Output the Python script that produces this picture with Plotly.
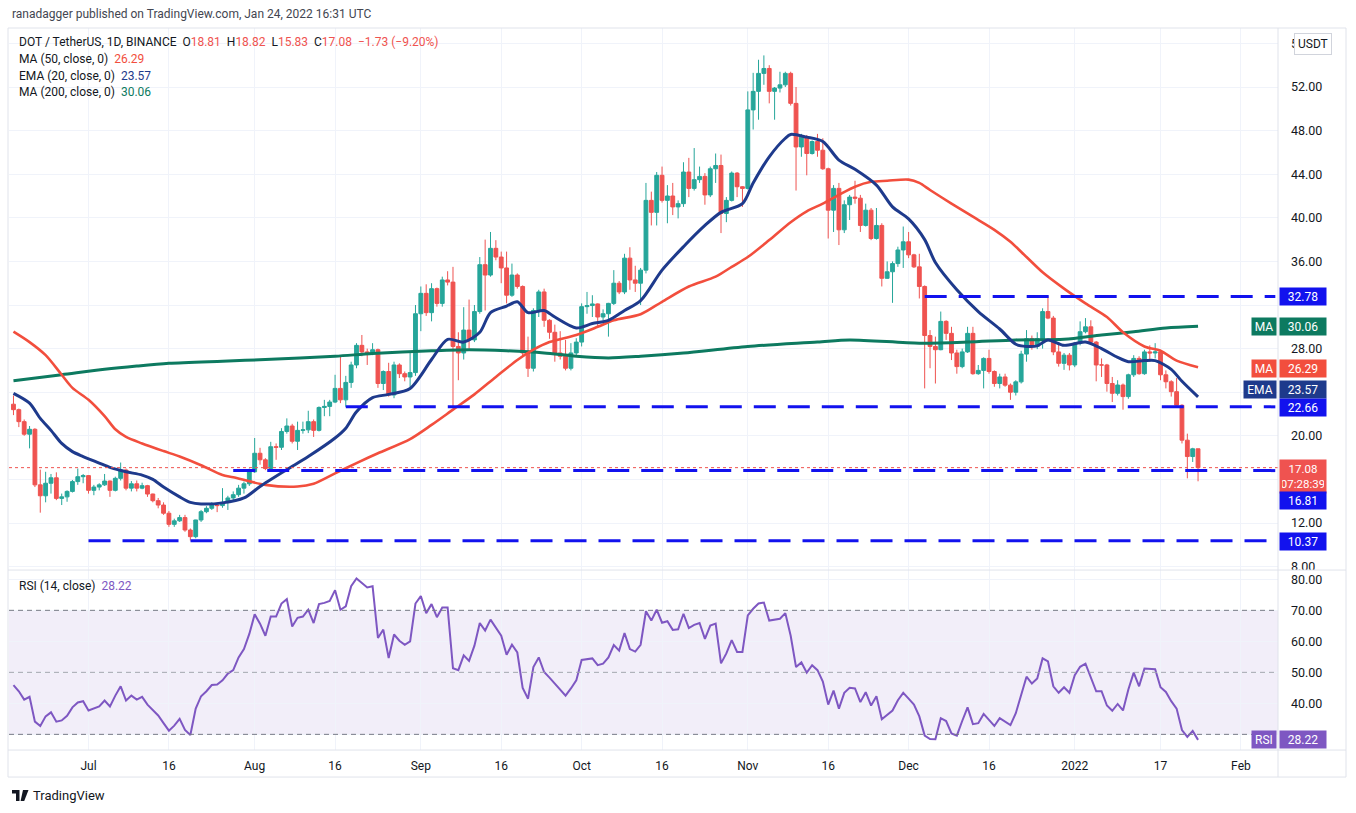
"""DOT/USDT daily candles with MA50 / EMA20 / MA200, S/R levels and RSI(14) pane."""
import pandas as pd
import plotly.graph_objects as go

# ---------------------------------------------------------------------------
# Data
# ---------------------------------------------------------------------------

FIRST_DAY = "2021-06-17"
first_open = 22.9

closes = [
    22.4, 21.3, 20.15, 20.6, 15.5, 14.5, 15.65, 16.15, 14.26, 14.4, 14.9, 15.8, 16.25, 16.35,  # Jun
    15.0, 15.3, 15.5, 15.85, 15.0, 16.1, 16.86, 15.2, 15.6, 15.2, 15.43, 14.66, 14.05, 13.65,
    12.9, 11.88, 12.2, 12.5, 11.36, 10.75, 12.28, 13.04, 13.35, 13.65, 13.6, 13.9, 14.3, 14.6,
    15.2, 15.6, 16.7,  # Jul
    18.4, 17.8, 17.0, 19.0, 18.95, 20.4, 20.9, 19.5, 20.5, 20.55, 21.3, 20.5, 22.6, 22.7, 23.1,
    24.35, 23.3, 24.9, 26.5, 28.3, 27.7, 27.6, 27.9, 24.8, 25.9, 23.75, 26.5, 25.7, 25.4, 25.8,
    31.2,  # Aug
    33.07, 31.3, 33.5, 32.15, 34.3, 34.1, 28.2, 27.6, 29.7, 28.8, 31.4, 35.7, 34.75, 37.2, 36.4,
    35.4, 32.9, 34.75, 33.7, 27.6, 26.2, 31.5, 33.2, 30.6, 29.5, 27.6, 27.3, 26.2, 27.6, 28.6,  # Sep
    31.85, 31.95, 32.1, 30.9, 31.2, 32.15, 34.0, 33.2, 36.3, 34.3, 34.0, 35.2, 41.6, 40.5, 43.9,
    41.6, 42.0, 41.0, 41.3, 44.2, 42.7, 43.5, 43.8, 42.1, 44.5, 44.8, 40.4, 41.6, 44.1, 42.85,
    42.7,  # Oct
    49.9, 51.6, 53.25, 53.7, 51.6, 51.9, 52.2, 53.25, 50.5, 46.5, 47.4, 45.9, 47.0, 46.2, 44.5,
    40.7, 42.7, 38.9, 41.2, 41.9, 41.8, 39.3, 40.7, 38.1, 39.3, 34.45, 35.05, 35.8, 37.05, 37.8,  # Nov
    36.6, 35.5, 33.7, 29.2, 28.2, 27.9, 30.5, 29.4, 27.6, 26.35, 27.7, 29.4, 25.7, 26.0, 27.1,
    25.9, 24.8, 25.4, 24.65, 24.0, 24.95, 27.5, 28.9, 28.2, 28.9, 31.4, 30.8, 27.7, 26.65, 27.4,
    26.5,  # Dec
    28.5, 29.55, 30.0, 28.6, 26.5, 26.5, 24.8, 23.9, 24.66, 23.6, 25.6, 27.1, 25.7, 27.7, 27.6,
    27.7, 25.6, 24.96, 24.05, 22.8, 19.6, 18.1, 18.81, 17.08,  # Jan
]
highs = [
    23.7, 22.5, 21.5, 20.9, 20.7, 16.9, 16.7, 16.5, 16.65, 14.7, 15.0, 15.95, 17.0, 16.5,
    16.4, 15.5, 15.65, 16.5, 15.9, 16.25, 17.55, 17.0, 15.85, 15.9, 15.7, 15.5, 14.7, 14.3,
    13.9, 13.1, 12.4, 12.75, 12.75, 11.5, 12.3, 13.2, 13.55, 13.9, 13.75, 15.2, 14.5, 14.9,
    15.5, 15.8, 17.0,
    19.8, 18.9, 17.95, 19.45, 19.3, 20.7, 21.6, 21.1, 21.3, 21.3, 22.3, 21.5, 22.7, 23.3, 23.3,
    25.6, 27.25, 25.5, 26.8, 28.5, 29.25, 28.0, 28.5, 28.0, 26.0, 26.7, 26.8, 26.65, 25.9, 27.6,
    32.0,
    33.7, 33.9, 34.0, 33.6, 34.6, 35.1, 35.5, 29.5, 31.8, 32.5, 32.0, 36.4, 38.0, 38.7, 37.95,
    36.9, 36.9, 35.8, 34.9, 33.8, 29.1, 31.7, 33.4, 33.5, 30.7, 30.2, 29.6, 28.8, 28.5, 28.95,
    32.15, 33.2, 32.9, 32.15, 31.6, 32.2, 35.2, 34.2, 36.7, 37.3, 35.6, 35.4, 43.2, 42.4, 44.2,
    44.7, 43.0, 43.2, 41.6, 45.1, 45.5, 46.4, 44.7, 44.1, 44.7, 45.9, 45.8, 41.9, 44.25, 44.2,
    42.9,
    51.6, 53.3, 54.5, 54.9, 54.0, 52.0, 53.4, 53.4, 53.4, 52.0, 47.7, 47.6, 47.1, 47.7, 47.3,
    44.6, 43.0, 43.2, 41.6, 42.1, 43.4, 42.1, 41.3, 40.9, 40.9, 39.5, 36.0, 36.0, 37.35, 39.2,
    38.7, 36.7, 36.7, 33.8, 29.7, 29.1, 31.4, 30.6, 30.0, 27.9, 28.0, 30.0, 30.0, 26.5, 27.2,
    27.9, 26.0, 25.7, 25.7, 24.8, 25.1, 27.8, 29.7, 29.2, 29.5, 31.7, 32.8, 31.0, 28.6, 27.6,
    27.6,
    28.6, 30.5, 30.8, 30.6, 28.7, 27.1, 26.6, 25.4, 25.1, 24.8, 25.7, 27.4, 27.3, 27.9, 28.3,
    28.5, 27.9, 26.0, 25.1, 25.3, 22.9, 20.2, 18.9, 18.82,
]
lows = [
    21.9, 20.8, 20.0, 18.85, 15.3, 12.95, 13.9, 14.7, 14.1, 13.65, 13.95, 14.8, 15.5, 15.65,
    14.7, 14.55, 15.0, 15.4, 14.4, 14.9, 15.9, 15.0, 14.9, 14.9, 15.1, 14.4, 13.9, 13.35,
    12.75, 11.65, 11.65, 12.1, 11.2, 10.4, 10.6, 12.1, 12.9, 13.2, 13.0, 13.4, 13.2, 14.1,
    14.4, 14.7, 15.4,
    16.6, 17.35, 16.85, 16.9, 17.8, 18.7, 20.2, 19.3, 18.7, 20.2, 20.25, 19.9, 20.4, 21.8, 21.8,
    23.0, 23.0, 22.66, 24.4, 26.2, 27.3, 26.5, 27.4, 24.4, 24.2, 23.6, 23.45, 25.3, 25.0, 24.4,
    25.5,
    29.6, 31.0, 30.5, 31.85, 31.85, 33.8, 22.7, 25.1, 27.0, 28.0, 28.6, 31.2, 31.5, 34.6, 36.1,
    34.0, 32.15, 32.75, 33.5, 27.3, 25.4, 25.9, 30.9, 30.0, 28.9, 26.8, 27.0, 26.0, 26.0, 27.3,
    28.2, 31.2, 30.9, 30.0, 30.6, 29.1, 32.0, 33.0, 33.0, 33.4, 33.2, 32.0, 34.9, 39.3, 39.3,
    41.4, 39.5, 40.25, 39.95, 41.0, 41.9, 42.5, 43.2, 41.2, 41.9, 43.2, 38.6, 39.6, 41.5, 41.9,
    41.0,
    42.6, 48.1, 49.0, 52.2, 50.5, 49.0, 51.5, 52.0, 50.3, 42.5, 45.6, 43.9, 45.8, 45.6, 44.4,
    38.1, 38.7, 37.5, 38.6, 39.8, 41.3, 38.7, 39.2, 37.95, 38.0, 33.7, 34.4, 32.2, 35.5, 35.4,
    36.3, 35.4, 32.6, 24.35, 26.2, 24.8, 27.85, 28.8, 26.95, 25.7, 26.2, 27.6, 25.6, 25.6, 24.35,
    25.7, 24.5, 24.35, 24.5, 23.3, 23.7, 24.8, 26.8, 27.9, 27.95, 28.0, 30.7, 27.4, 26.35, 26.05,
    26.0,
    26.3, 28.3, 29.4, 28.5, 25.0, 25.4, 24.05, 23.1, 23.7, 22.4, 23.4, 25.4, 25.6, 25.6, 26.8,
    27.1, 25.1, 24.35, 23.6, 22.7, 19.3, 16.1, 17.6, 15.83,
]

rsi = [
    45.9, 43.9, 41.2, 42.1, 34.1, 32.7, 35.8, 37.1, 34.1, 34.5, 36.0, 38.7, 40.3, 40.7,
    37.7, 38.3, 39.0, 40.9, 39.0, 42.5, 45.5, 40.9, 42.5, 41.2, 42.1, 39.6, 37.7, 36.1, 33.6,
    31.2, 32.8, 35.0, 31.4, 29.8, 38.3, 42.3, 43.9, 45.9, 46.1, 47.4, 49.6, 50.7, 54.8, 57.5,
    62.4,
    68.7, 65.7, 61.8, 68.0, 68.0, 72.2, 73.6, 64.8, 67.6, 68.0, 70.2, 65.9, 72.0, 72.4, 73.0,
    76.5, 70.2, 71.3, 77.8, 80.3, 78.7, 77.4, 77.8, 61.1, 63.8, 54.6, 62.2, 60.2, 58.9, 60.0,
    72.2,
    74.6, 69.1, 72.0, 67.8, 70.9, 70.9, 51.3, 50.7, 55.5, 53.7, 58.6, 65.9, 63.5, 67.0, 64.3,
    61.8, 55.7, 58.9, 56.4, 45.0, 41.5, 51.7, 54.8, 50.1, 48.3, 46.3, 44.5, 42.5, 44.8, 47.4,
    54.0, 54.2, 54.5, 52.3, 52.8, 54.8, 58.8, 57.0, 62.7, 57.5, 56.7, 58.9, 69.7, 66.7, 70.2,
    66.0, 66.5, 63.7, 63.9, 68.9, 64.3, 65.3, 65.9, 60.8, 65.1, 65.7, 52.9, 56.1, 60.4, 56.6,
    56.6,
    68.4, 70.5, 72.2, 72.5, 66.7, 67.1, 67.3, 69.1, 61.8, 51.7, 53.2, 49.9, 52.3, 50.7, 47.0,
    39.6, 44.1, 38.3, 43.4, 45.0, 44.8, 40.4, 43.6, 39.3, 42.3, 34.9, 36.3, 37.7, 41.0, 43.4,
    41.5, 39.6, 35.8, 29.6, 28.5, 28.4, 35.2, 34.3, 30.3, 29.6, 34.3, 38.7, 33.3, 33.6, 36.6,
    34.7, 32.7, 35.2, 34.1, 33.0, 36.8, 42.8, 48.6, 46.4, 48.0, 54.5, 53.5, 45.5, 43.4, 45.2,
    43.4,
    49.1, 51.8, 52.8, 48.3, 43.9, 43.9, 39.3, 37.6, 39.8, 37.7, 44.5, 49.9, 45.5, 51.2, 51.0,
    51.0, 45.2, 43.7, 40.7, 38.3, 31.4, 29.2, 31.1, 28.22,
]

ema20_dates = [
    "2021-06-17", "2021-06-20", "2021-06-22", "2021-06-24", "2021-06-26", "2021-06-28",
    "2021-06-30", "2021-07-03", "2021-07-05", "2021-07-08", "2021-07-11", "2021-07-13",
    "2021-07-15", "2021-07-18", "2021-07-20", "2021-07-22", "2021-07-26", "2021-07-30",
    "2021-08-02", "2021-08-07", "2021-08-11", "2021-08-16", "2021-08-18", "2021-08-20",
    "2021-08-23", "2021-08-26", "2021-08-30", "2021-09-03", "2021-09-06", "2021-09-09",
    "2021-09-12", "2021-09-14", "2021-09-17", "2021-09-19", "2021-09-21", "2021-09-24",
    "2021-09-26", "2021-09-30", "2021-10-03", "2021-10-06", "2021-10-09", "2021-10-12",
    "2021-10-16", "2021-10-20", "2021-10-24", "2021-10-27", "2021-10-31", "2021-11-02",
    "2021-11-05", "2021-11-08", "2021-11-09", "2021-11-12", "2021-11-15", "2021-11-18",
    "2021-11-21", "2021-11-25", "2021-11-28", "2021-12-01", "2021-12-04", "2021-12-06",
    "2021-12-10", "2021-12-14", "2021-12-18", "2021-12-21", "2021-12-23", "2021-12-25",
    "2021-12-27", "2021-12-30", "2022-01-03", "2022-01-06", "2022-01-09", "2022-01-11",
    "2022-01-14", "2022-01-16", "2022-01-19", "2022-01-21", "2022-01-24",
]
ema20_vals = [
    23.9, 23.0, 21.6, 20.5, 19.3, 18.55, 18.1, 17.5, 17.1, 16.7, 16.4, 16.0, 15.3, 14.4,
    13.9, 13.75, 13.85, 14.3, 15.35, 16.9, 18.1, 19.8, 20.7, 22.2, 23.5, 23.8, 24.35, 27.0,
    28.85, 28.6, 29.5, 31.3, 31.9, 32.3, 31.3, 31.5, 30.9, 29.9, 30.3, 30.6, 31.5, 32.4,
    35.2, 37.35, 39.3, 40.5, 41.3, 43.2, 45.6, 47.3, 47.65, 47.4, 47.0, 45.3, 44.45, 43.0,
    41.0, 39.9, 38.0, 35.9, 33.4, 31.4, 29.8, 28.4, 28.2, 28.25, 28.8, 28.3, 28.6, 28.0,
    27.2, 26.8, 26.9, 26.9, 26.1, 25.0, 23.57,
]

ma50_dates = [
    "2021-06-17", "2021-06-20", "2021-06-23", "2021-06-26", "2021-06-28", "2021-07-01",
    "2021-07-04", "2021-07-06", "2021-07-08", "2021-07-11", "2021-07-15", "2021-07-18",
    "2021-07-22", "2021-07-26", "2021-07-28", "2021-08-03", "2021-08-09", "2021-08-12",
    "2021-08-16", "2021-08-20", "2021-08-24", "2021-08-30", "2021-09-03", "2021-09-07",
    "2021-09-11", "2021-09-15", "2021-09-19", "2021-09-22", "2021-09-25", "2021-09-30",
    "2021-10-04", "2021-10-07", "2021-10-12", "2021-10-16", "2021-10-21", "2021-10-26",
    "2021-10-29", "2021-11-01", "2021-11-05", "2021-11-09", "2021-11-12", "2021-11-15",
    "2021-11-18", "2021-11-21", "2021-11-24", "2021-11-27", "2021-12-01", "2021-12-03",
    "2021-12-05", "2021-12-09", "2021-12-13", "2021-12-17", "2021-12-20", "2021-12-23",
    "2021-12-26", "2021-12-30", "2022-01-03", "2022-01-07", "2022-01-10", "2022-01-14",
    "2022-01-17", "2022-01-20", "2022-01-24",
]
ma50_vals = [
    29.56, 28.6, 27.4, 25.6, 24.4, 23.3, 21.8, 20.6, 19.9, 19.3, 18.6, 18.1, 17.3, 16.4,
    16.2, 15.5, 15.35, 15.6, 16.55, 17.5, 18.4, 19.7, 21.0, 22.4, 23.8, 25.4, 26.96, 27.9,
    28.6, 29.25, 30.0, 30.6, 31.15, 32.3, 33.7, 34.6, 35.5, 36.4, 37.96, 39.6, 40.6, 41.3,
    42.1, 42.85, 43.3, 43.4, 43.5, 43.2, 42.55, 41.3, 40.1, 38.9, 37.8, 36.4, 35.0, 33.5,
    32.15, 30.9, 29.5, 28.2, 27.8, 26.9, 26.29,
]

ma200_dates = [
    "2021-06-17", "2021-06-26", "2021-07-04", "2021-07-10", "2021-07-16", "2021-07-26",
    "2021-08-03", "2021-08-16", "2021-08-23", "2021-09-03", "2021-09-10", "2021-09-17",
    "2021-09-24", "2021-09-30", "2021-10-06", "2021-10-12", "2021-10-20", "2021-11-01",
    "2021-11-14", "2021-11-20", "2021-12-03", "2021-12-12", "2021-12-21", "2021-12-30",
    "2022-01-06", "2022-01-12", "2022-01-18", "2022-01-24",
]
ma200_vals = [
    25.05, 25.6, 26.1, 26.4, 26.65, 26.85, 27.0, 27.3, 27.55, 27.8, 27.9, 27.8, 27.6, 27.3,
    27.15, 27.3, 27.6, 28.2, 28.6, 28.8, 28.5, 28.6, 28.8, 28.85, 29.25, 29.55, 29.9, 30.06,
]

levels = [32.78, 22.66, 16.81, 10.37]
level_starts = ["2021-12-04", "2021-08-18", "2021-07-28", "2021-07-01"]

tick_dates = [
    "2021-07-01", "2021-07-16", "2021-08-01", "2021-08-16", "2021-09-01", "2021-09-16",
    "2021-10-01", "2021-10-16", "2021-11-01", "2021-11-16", "2021-12-01", "2021-12-16",
    "2022-01-01", "2022-01-17", "2022-02-01",
]
tick_labels = ["Jul", "16", "Aug", "16", "Sep", "16", "Oct", "16", "Nov", "16", "Dec", "16",
               "2022", "17", "Feb"]
price_ticks = [8, 12, 16, 20, 24, 28, 32, 36, 40, 44, 48, 52, 56]
# labels hidden behind the price tags are left blank; "56.00" only shows its "5"
price_labels = ["8.00", "12.00", "", "20.00", "", "28.00", "", "36.00", "40.00", "44.00",
                "48.00", "52.00", "5"]
rsi_ticks = [30, 40, 50, 60, 70, 80]
rsi_labels = ["", "40.00", "50.00", "60.00", "70.00", "80.00"]

# ---------------------------------------------------------------------------
# Geometry / style (pixel positions in the 1356x813 frame)
# ---------------------------------------------------------------------------

W, H = 1356, 813
SY = 1.005  # small vertical correction measured against the reference
PLOT_L, PLOT_R = 9, 1278
FRAME_L, FRAME_R = 8, 1346
PRICE_TOP, SPLIT, RSI_BOT, FRAME_BOT = 28, 570, 750, 777
X_START, X_END = "2021-06-16 04:00", "2022-02-07 22:00"
LINE_END = "2022-02-07 10:00"
PRICE_RANGE = [7.688, 57.413]
RSI_RANGE = [24.94, 83.0]

FONT = "Roboto"
TEXT = "#131722"
GRID = "#f0f3fa"
BORDER = "#e0e3eb"
UP, DOWN = "#26a69a", "#ef5350"
MA50_C, EMA20_C, MA200_C = "#f24e3d", "#1e3a8c", "#0d7a60"
LEVEL_C = "#1212ee"
RSI_C = "#7e57c2"
NB = "\u00a0"


def px(x):
    return x / W


def py(y):
    return 1 - y * SY / H


assert len(closes) == len(highs) == len(lows) == len(rsi)
dates = pd.date_range(FIRST_DAY, periods=len(closes), freq="D")
# crypto daily bars open at the previous close
opens = [first_open] + closes[:-1]

fig = go.Figure()

fig.add_trace(go.Candlestick(
    x=dates, open=opens, high=highs, low=lows, close=closes,
    increasing=dict(line=dict(color=UP, width=1), fillcolor=UP),
    decreasing=dict(line=dict(color=DOWN, width=1), fillcolor=DOWN),
    whiskerwidth=0, hoverinfo="skip", xaxis="x", yaxis="y",
))
for d, v, c, w in [
    (ma200_dates, ma200_vals, MA200_C, 3),
    (ma50_dates, ma50_vals, MA50_C, 2.6),
    (ema20_dates, ema20_vals, EMA20_C, 3),
]:
    fig.add_trace(go.Scatter(
        x=pd.to_datetime(d), y=v, mode="lines",
        line=dict(color=c, width=w, shape="spline", smoothing=0.8),
        hoverinfo="skip", xaxis="x", yaxis="y",
    ))
for lvl, start in zip(levels, level_starts):
    fig.add_trace(go.Scatter(
        x=[pd.Timestamp(start), pd.Timestamp(LINE_END)], y=[lvl, lvl], mode="lines",
        line=dict(color=LEVEL_C, width=3, dash="22px,12px"),
        hoverinfo="skip", xaxis="x", yaxis="y",
    ))

fig.add_trace(go.Scatter(
    x=dates, y=rsi, mode="lines", line=dict(color=RSI_C, width=2),
    hoverinfo="skip", xaxis="x2", yaxis="y2",
))

# ---------------------------------------------------------------------------
# Shapes
# ---------------------------------------------------------------------------

shapes = [
    dict(type="rect", xref="paper", yref="y2", x0=px(PLOT_L), x1=px(PLOT_R), y0=30, y1=70,
         fillcolor="rgba(126,87,194,0.10)", line=dict(width=0), layer="below"),
    dict(type="line", xref="paper", yref="y", x0=px(PLOT_L), x1=px(PLOT_R),
         y0=closes[-1], y1=closes[-1], line=dict(color=DOWN, width=1, dash="dot")),
]
for lvl, col in [(70, "#787b86"), (50, "#a3a6af"), (30, "#787b86")]:
    shapes.append(dict(type="line", xref="paper", yref="y2", x0=px(PLOT_L), x1=px(PLOT_R),
                       y0=lvl, y1=lvl, line=dict(color=col, width=1, dash="5px,4px")))
# clip the half-hidden "8.00" label like the original
shapes.append(dict(type="rect", xref="paper", yref="paper", x0=px(PLOT_R + 1), x1=px(FRAME_R - 1),
                   y0=py(573), y1=py(SPLIT), fillcolor="white", line=dict(width=0), layer="above"))
# frame
shapes.append(dict(type="rect", xref="paper", yref="paper", x0=px(FRAME_L), x1=px(FRAME_R),
                   y0=py(FRAME_BOT), y1=py(PRICE_TOP), line=dict(color=BORDER, width=1)))
shapes.append(dict(type="line", xref="paper", yref="paper", x0=px(PLOT_R), x1=px(PLOT_R),
                   y0=py(FRAME_BOT), y1=py(PRICE_TOP), line=dict(color=BORDER, width=1)))
for yy in (SPLIT, RSI_BOT):
    shapes.append(dict(type="line", xref="paper", yref="paper", x0=px(FRAME_L), x1=px(FRAME_R),
                       y0=py(yy), y1=py(yy), line=dict(color=BORDER, width=1)))


# TradingView logo mark, pixel polygons
def poly(points):
    return "M " + " L ".join(f"{px(x):.5f},{py(y):.5f}" for x, y in points) + " Z"


for pts in [
    [(12, 790), (19.5, 790), (19.5, 801), (16, 801), (16, 793.5), (12, 793.5)],
    [(23, 790), (28.5, 790), (24.2, 801), (20.6, 801)],
]:
    shapes.append(dict(type="path", xref="paper", yref="paper", path=poly(pts),
                       fillcolor=TEXT, line=dict(width=0)))

# ---------------------------------------------------------------------------
# Annotations
# ---------------------------------------------------------------------------

ann = []


def text_at(x, y, text, size=12, color=TEXT):
    ann.append(dict(x=px(x), y=py(y), xref="paper", yref="paper", xanchor="left",
                    yanchor="middle", text=text, showarrow=False,
                    font=dict(size=size, color=color)))


def red(s):
    return f"<span style='color:{DOWN}'>{s}</span>"


text_at(10, 14, "ranadagger published on TradingView.com, Jan 24, 2022 16:31 UTC",
        color="#434651")
text_at(17, 42, "DOT / TetherUS, 1D, BINANCE" + NB * 2
        + "O" + red("18.81") + NB * 2 + "H" + red("18.82") + NB * 2
        + "L" + red("15.83") + NB * 2 + "C" + red("17.08") + NB * 2
        + red("\u22121.73 (\u22129.20%)"))
text_at(17, 59, f"MA (50, close, 0){NB * 2}<span style='color:{MA50_C}'>26.29</span>")
text_at(17, 76, f"EMA (20, close, 0){NB * 2}<span style='color:{EMA20_C}'>23.57</span>")
text_at(17, 92, f"MA (200, close, 0){NB * 2}<span style='color:{MA200_C}'>30.06</span>")
text_at(17, 586, f"RSI (14, close){NB * 2}<span style='color:{RSI_C}'>28.22</span>")
text_at(31, 795, "TradingView", size=13)


def tag(y, text, color, yref="y", yshift=0, prefix=None, pw=20, height=13,
        yanchor="middle", width=42, size=12):
    ann.append(dict(x=px(PLOT_R + 1), y=y, xref="paper", yref=yref, xanchor="left",
                    yanchor=yanchor, yshift=yshift, text=text, showarrow=False,
                    bgcolor=color, borderpad=2, width=width, height=height,
                    font=dict(size=size, color="white")))
    if prefix:
        ann.append(dict(x=px(PLOT_R - 1), y=y, xref="paper", yref=yref, xanchor="right",
                        yanchor=yanchor, yshift=yshift, text=prefix, showarrow=False,
                        bgcolor=color, borderpad=2, width=pw, height=height,
                        font=dict(size=12, color="white")))


tag(levels[0], "32.78", LEVEL_C)
tag(ma200_vals[-1], "30.06", MA200_C, prefix="MA")
tag(ma50_vals[-1], "26.29", MA50_C, yshift=-1, prefix="MA")
tag(ema20_vals[-1], "23.57", EMA20_C, yshift=7, prefix="EMA", pw=28)
tag(levels[1], "22.66", LEVEL_C, yshift=-1)
tag(closes[-1], "17.08<br>07:28:39", DOWN, yshift=9, height=29, yanchor="top", size=11.5)
tag(levels[2], "16.81", LEVEL_C, yshift=-30)
tag(levels[3], "10.37", LEVEL_C, yshift=-1)
tag(rsi[-1], "28.22", RSI_C, yref="y2", prefix="RSI")

ann.append(dict(x=px(1313), y=py(44), xref="paper", yref="paper", xanchor="center",
                yanchor="middle", text="USDT", showarrow=False, bgcolor="white",
                bordercolor="#d1d4dc", borderwidth=1, borderpad=3,
                font=dict(size=12, color=TEXT)))

# ---------------------------------------------------------------------------
# Layout
# ---------------------------------------------------------------------------

fig.update_layout(
    width=W, height=H, autosize=False, margin=dict(l=0, r=0, t=0, b=0),
    paper_bgcolor="white", plot_bgcolor="white", showlegend=False,
    font=dict(family=FONT, size=12, color=TEXT),
    boxgap=0.25, boxgroupgap=0.05,
    xaxis=dict(
        domain=[px(PLOT_L), px(PLOT_R)], anchor="y", type="date", range=[X_START, X_END],
        tickvals=tick_dates, showticklabels=False, ticks="", showgrid=True, gridcolor=GRID,
        zeroline=False, showline=False, rangeslider=dict(visible=False), fixedrange=True,
    ),
    xaxis2=dict(
        domain=[px(PLOT_L), px(PLOT_R)], anchor="y2", type="date", matches="x",
        tickvals=tick_dates, ticktext=tick_labels, ticks="", showgrid=True, gridcolor=GRID,
        zeroline=False, showline=False, tickfont=dict(size=12, color=TEXT),
        ticklabelstandoff=7,
    ),
    yaxis=dict(
        domain=[py(SPLIT), py(PRICE_TOP)], anchor="x", side="right", range=PRICE_RANGE,
        tickvals=price_ticks, ticktext=price_labels, ticks="",
        showgrid=True, gridcolor=GRID, zeroline=False, showline=False,
        tickfont=dict(size=12.5, color=TEXT), ticklabelstandoff=12,
    ),
    yaxis2=dict(
        domain=[py(RSI_BOT), py(SPLIT)], anchor="x2", side="right", range=RSI_RANGE,
        tickvals=rsi_ticks, ticktext=rsi_labels, ticks="",
        showgrid=True, gridcolor=GRID, zeroline=False, showline=False,
        tickfont=dict(size=12.5, color=TEXT), ticklabelstandoff=12,
    ),
    shapes=shapes,
    annotations=ann,
)

# drop the page's default body margin so the chart sits at the window's corner
PAGE_FIX = (
    "document.body.style.margin='0';"
    "document.body.style.overflow='hidden';"
)
fig.write_html("out.html", config={"displayModeBar": False}, post_script=PAGE_FIX)
